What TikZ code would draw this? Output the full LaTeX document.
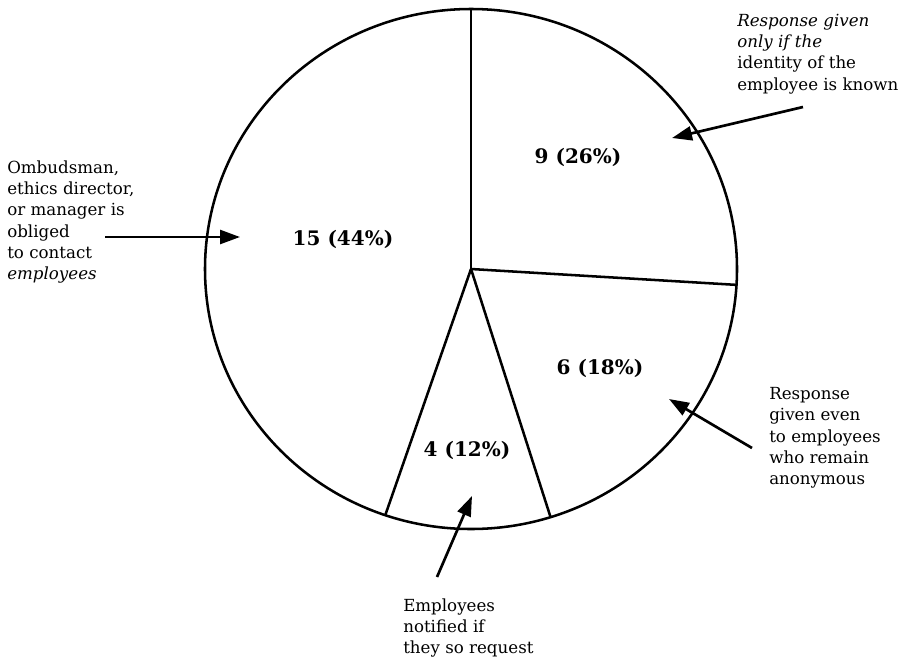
\documentclass[tikz,border=0pt]{standalone}
\usepackage{fontspec}
\setmainfont{DejaVu Serif}
\usetikzlibrary{arrows.meta}

\begin{document}
\begin{tikzpicture}[x=0.75pt,y=-0.75pt,
	lbl/.style={align=left,inner sep=0pt,anchor=west,font=\fontsize{12.5}{16}\selectfont},
	num/.style={inner sep=0pt,font=\bfseries\fontsize{15}{18}\selectfont},
	pointer/.style={line width=2pt,-{Triangle[length=15pt,width=10.5pt]}},
	wedge/.style={line width=1.9pt}]
	\useasboundingbox (0,0) rectangle (917,661);
	\coordinate (c) at (471,269);
	\draw[wedge] (c) ellipse [x radius=266,y radius=260];
	\draw[wedge] (c) -- ++(-90:266 and 260);
	\draw[wedge] (c) -- ++(3.5:266 and 260);
	\draw[wedge] (c) -- ++(72.6:266 and 260);
	\draw[wedge] (c) -- ++(108.8:266 and 260);
	\node[num] (n9) at (578,157) {9 (26\%)};
	\node[num] (n15) at (343,239) {15 (44\%)};
	\node[num] (n6) at (600,368) {6 (18\%)};
	\node[num] (n4) at (467,450) {4 (12\%)};
	\node[lbl] (contact) at (7,222) {Ombudsman,\\ethics director,\\or manager is\\obliged\\to contact\\\textit{employees}};
	\node[lbl] (known) at (737,54) {\textit{Response given}\\\textit{only if the}\\identity of the\\employee is known};
	\node[lbl] (anon) at (769,438) {Response\\given even\\to employees\\who remain\\anonymous};
	\node[lbl] (request) at (403,628) {Employees\\notified if\\they so request};
	\coordinate (contact-tail) at (105,237);
	\coordinate (contact-tip) at (240,237);
	\coordinate (known-tail) at (803,107);
	\coordinate (known-tip) at (672,138);
	\coordinate (anon-tail) at (752,448);
	\coordinate (anon-tip) at (669,399);
	\coordinate (request-tail) at (437,577);
	\coordinate (request-tip) at (472,496);
	\draw[pointer] (contact-tail) -- (contact-tip);
	\draw[pointer] (known-tail) -- (known-tip);
	\draw[pointer] (anon-tail) -- (anon-tip);
	\draw[pointer] (request-tail) -- (request-tip);
\end{tikzpicture}
\end{document}
